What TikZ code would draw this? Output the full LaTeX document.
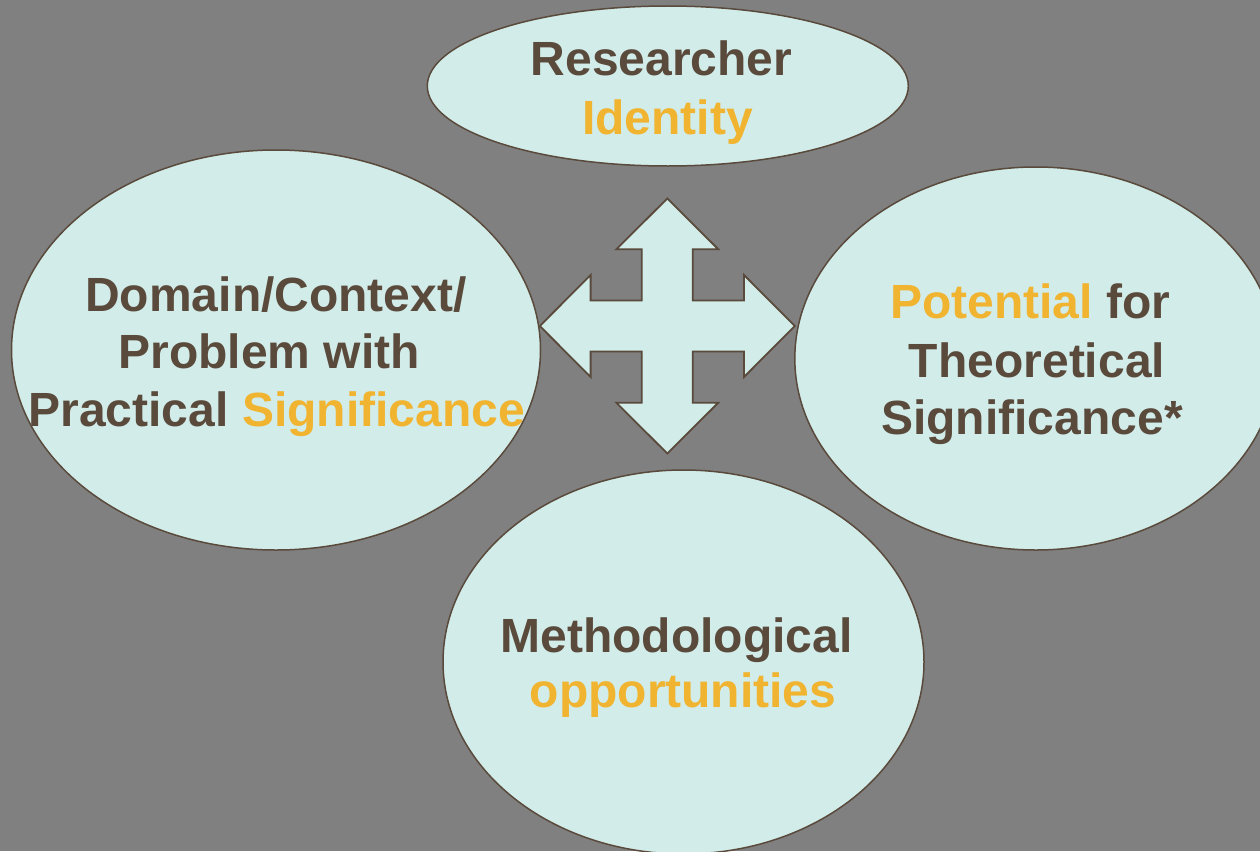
\documentclass[tikz,border=0pt]{standalone}
\usepackage{fontspec}
\setmainfont{Liberation Sans}
\usetikzlibrary{shapes.geometric}
\definecolor{backdrop}{HTML}{808080}
\definecolor{paleblue}{HTML}{D2ECEA}
\definecolor{ink}{HTML}{5A4A3C}
\definecolor{gold}{HTML}{F0B430}

\begin{document}
\begin{tikzpicture}[x=1pt,y=-1pt,
  bubblebox/.style={ellipse, draw=ink, line width=1.5pt, fill=paleblue,
                    inner sep=0pt, outer sep=0pt},
  txt/.style={anchor=base, inner sep=0pt, text=ink,
              font=\fontsize{48}{57}\selectfont\bfseries},
  crossarrow/.style={draw=ink, line width=1.8pt, fill=paleblue, line join=miter}
]
% canvas
\clip (0,0) rectangle (1260,851);
\fill[backdrop] (0,0) rectangle (1260,851);

% the four bubbles
\node[bubblebox, minimum width=481pt, minimum height=160pt] (identity) at (667.8,86) {};
\node[bubblebox, minimum width=529pt, minimum height=400pt] (domain) at (276,350) {};
\node[bubblebox, minimum width=482pt, minimum height=383pt] (theory) at (1035.8,358.5) {};
\node[bubblebox, minimum width=481pt, minimum height=384pt] (method) at (683.5,662) {};

% texts
\node[txt] (t1a) at (661.5,75) {Researcher};
\node[txt, text=gold] (t1b) at (667.5,134) {Identity};

\node[txt] (t2a) at (276,311) {Domain/Context/};
\node[txt] (t2b) at (269,368.5) {Problem with};
\node[txt] (t2c) at (276.7,426) {Practical \textcolor{gold}{Significance}};

\node[txt] (t3a) at (1030,318) {\textcolor{gold}{Potential} for};
\node[txt] (t3b) at (1037,377) {Theoretical};
\node[txt] (t3c) at (1032,434) {Significance*};

\node[txt] (t4a) at (676.5,652) {Methodological};
\node[txt, text=gold] (t4b) at (683,707) {opportunities};

% four-way arrow in the middle
\coordinate (hub) at (667.3,326);
\begin{scope}[shift={(hub)}]
  \def\tp{127.5}\def\hw{51}\def\hb{76.7}\def\sh{25.5}
  \draw[crossarrow]
    (0,-\tp) -- (\hw,-\hb) -- (\sh,-\hb) -- (\sh,-\sh) -- (\hb,-\sh) -- (\hb,-\hw)
    -- (\tp,0) -- (\hb,\hw) -- (\hb,\sh) -- (\sh,\sh) -- (\sh,\hb) -- (\hw,\hb)
    -- (0,\tp) -- (-\hw,\hb) -- (-\sh,\hb) -- (-\sh,\sh) -- (-\hb,\sh) -- (-\hb,\hw)
    -- (-\tp,0) -- (-\hb,-\hw) -- (-\hb,-\sh) -- (-\sh,-\sh) -- (-\sh,-\hb) -- (-\hw,-\hb)
    -- cycle;
\end{scope}
\end{tikzpicture}
\end{document}
